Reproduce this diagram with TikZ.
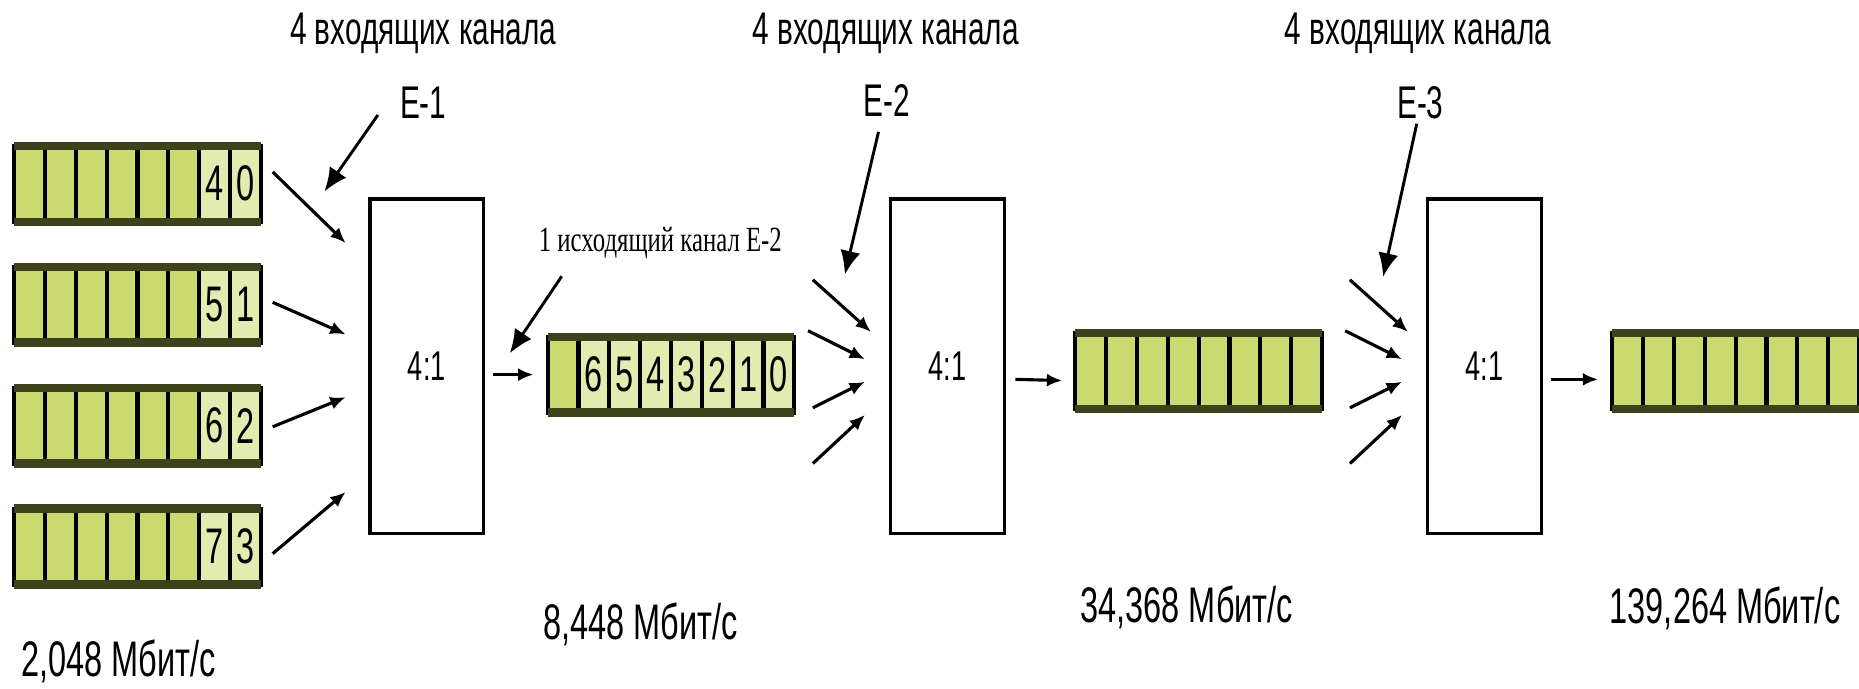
\documentclass[tikz,border=0pt]{standalone}
\usepackage{fontspec}
\setmainfont[FakeStretch=0.65]{Liberation Sans}
\newfontfamily\notefont[FakeStretch=0.7]{Liberation Serif}
\usetikzlibrary{positioning,arrows.meta}
\definecolor{cellgreen}{RGB}{202,218,112}
\definecolor{cellpale}{RGB}{226,236,176}
\definecolor{bandolive}{RGB}{62,66,28}

\begin{document}
\begin{tikzpicture}[x=0.1mm, y=-0.1mm,
    cell/.style = {draw, line width=1pt, fill=cellgreen, minimum width=2.6mm, minimum height=6.4mm,
                   inner sep=0pt, outer sep=0pt, font=\fontsize{12}{12}\selectfont},
    numcell/.style = {fill=cellpale},
    band/.style = {draw=bandolive, line width=2pt},
    mux/.style = {draw, line width=0.8pt, minimum width=9.6mm, minimum height=28.2mm,
                  font=\fontsize{10}{12}\selectfont},
    feed/.style = {-{Latex[length=1.3mm,width=1.1mm]}, line width=0.75pt},
    pointer/.style = {-{Latex[length=2mm,width=1.7mm]}, line width=0.7pt},
    head/.style = {inner sep=0pt, font=\fontsize{11}{13}\selectfont},
    note/.style = {inner sep=0pt, font=\notefont\fontsize{8.5}{10}\selectfont},
    rate/.style = {font=\fontsize{12}{14}\selectfont}]
  \useasboundingbox (0,0) rectangle (1568,581);

  % four incoming E-1 streams
  \foreach \q/\y/\a/\b in {q1/155/4/0, q2/257/5/1, q3/359/6/2, q4/461/7/3} {
    \foreach \c in {1,...,6}
      \node[cell] (\q-\c) at ({26*\c-1},\y) {};
    \node[cell, numcell, right=0pt of \q-6] (\q-7) {\a};
    \node[cell, numcell, right=0pt of \q-7] (\q-8) {\b};
  }

  % outgoing streams
  \node[cell] (o1-1) at (475,316) {};
  \foreach \t [count=\c from 2] in {6,5,4,3,2,1,0}
    \node[cell, numcell] (o1-\c) at ({462+26*\c-13},316) {\t};
  \foreach \c in {1,...,8} {
    \node[cell] (o2-\c) at ({907+26*\c-13},313) {};
    \node[cell] (o3-\c) at ({1360+26*\c-13},313) {};
  }
  \foreach \q in {q1,q2,q3,q4,o1,o2,o3} {
    \draw[band] (\q-1.north west) -- (\q-8.north east);
    \draw[band] (\q-1.south west) -- (\q-8.south east);
  }

  % multiplexers
  \node[mux] (b1) at (360,309) {4:1};
  \node[mux] (b2) at (799,309) {4:1};
  \node[mux] (b3) at (1252,309) {4:1};

  \foreach \k/\ty/\dy in {1/-10/-104, 2/-2/-27, 3/1/26, 4/6/106} {
    \coordinate (b1-in\k) at ([shift={(-19,\dy)}]b1.west);
    \draw[feed] ([shift={(10,\ty)}]q\k-8.east) -- (b1-in\k);
  }
  \foreach \b in {2,3}
    \foreach \k/\tx/\ty/\hx/\hy in {1/-64/-73/-15/-29, 2/-68/-30/-20/-6, 3/-64/35/-20/13, 4/-64/82/-20/41} {
      \coordinate (b\b-from\k) at ([shift={(\tx,\ty)}]b\b.west);
      \coordinate (b\b-in\k) at ([shift={(\hx,\hy)}]b\b.west);
      \draw[feed] (b\b-from\k) -- (b\b-in\k);
    }

  \draw[feed] ([shift={(6,7)}]b1.east) -- ([xshift=-1.2mm]o1-1.west);
  \draw[feed] ([shift={(8,11)}]b2.east) -- ([shift={(-11,8)}]o2-1.west);
  \draw[feed] ([shift={(7,11)}]b3.east) -- ([shift={(-12,7)}]o3-1.west);

  % headings
  \node[head] (h1) at (357,28) {4 входящих канала};
  \node[head] (h2) at (747,28) {4 входящих канала};
  \node[head] (h3) at (1196,28) {4 входящих канала};
  \node[head] (e1) at (357,87) {E-1};
  \node[head] (e2) at (748,85) {E-2};
  \node[head] (e3) at (1198,87) {E-3};

  \coordinate (b1-tag) at ([shift={(-37,-5)}]b1.north west);
  \coordinate (b2-tag) at ([shift={(-37,65)}]b2.north west);
  \coordinate (b3-tag) at ([shift={(-36,67)}]b3.north west);
  \draw[pointer] ([shift={(-18,-4)}]e1.south west) -- (b1-tag);
  \draw[pointer] ([shift={(-7,12)}]e2.south) -- (b2-tag);
  \draw[pointer] ([shift={(-3,3)}]e3.south) -- (b3-tag);

  \node[note] (n1) at (557,205) {1 исходящий канал E-2};
  \coordinate (o1-tag) at ([shift={(-32,-18)}]o1-1.west);
  \draw[pointer] ([shift={(20,14)}]n1.south west) -- (o1-tag);

  % bit rates
  \node[rate] (r1) at (100,558) {2,048 Мбит/с};
  \node[rate] (r2) at (540,527) {8,448 Мбит/с};
  \node[rate] (r3) at (1001,512) {34,368 Мбит/с};
  \node[rate] (r4) at (1455,513) {139,264 Мбит/с};
\end{tikzpicture}
\end{document}
